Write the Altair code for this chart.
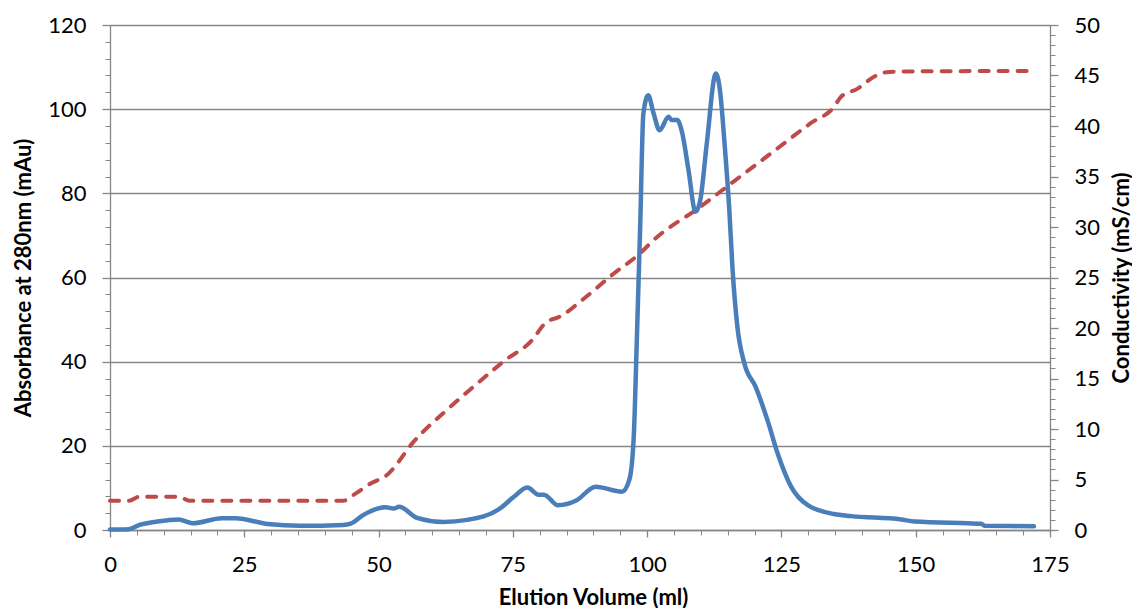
import altair as alt
import pandas as pd

# Absorbance at 280 nm (mAu) vs elution volume (ml)
vol_abs = [0, 3.5, 5.5, 8.8, 12.8, 15.4, 20.8, 23.4, 29.4, 35.4, 43.4, 44.8, 47.2, 51.3, 52.8,
           53.8, 57.3, 62.0, 66.5, 72.5, 75.2, 77.7, 79.8, 80.8, 83.4, 86.8, 90.4, 95.3, 96.7,
           97.5, 98.1, 98.7, 99.3, 100.2, 101.2, 102.3, 104.0, 104.6, 105.6, 106.5, 107.7,
           109.0, 109.9, 111.1, 112.8, 113.6, 114.4, 115.3, 115.9, 116.8, 118.1, 120.2, 122.4,
           124.3, 126.8, 129.9, 134.8, 138.0, 147.3, 149.8, 159.7, 162.2, 162.8, 172.0]
absorbance = [0.1, 0.2, 1.2, 2.0, 2.5, 1.6, 2.8, 2.8, 1.4, 1.0, 1.2, 1.5, 3.6, 5.4, 5.1,
              5.5, 2.8, 1.9, 2.4, 5.0, 7.9, 10.1, 8.4, 8.4, 5.9, 7.0, 10.3, 9.1, 12.0,
              22.0, 46.0, 72.0, 99.0, 103.3, 99.0, 95.0, 98.2, 97.4, 97.4, 94.5, 85.5,
              75.6, 78.4, 91.8, 108.5, 104.0, 92.0, 76.0, 62.0, 48.3, 39.6, 34.0, 26.1,
              18.2, 10.3, 5.9, 3.8, 3.3, 2.5, 2.0, 1.6, 1.5, 1.0, 0.9]

# Conductivity (mS/cm) vs elution volume (ml)
vol_cond = [0, 3.5, 5.5, 12.8, 14.8, 43.5, 45.4, 48.5, 51.9, 53.5, 56.3, 59.0, 62.1, 67.7,
            73.3, 78.9, 80.7, 82.0, 83.2, 88.2, 93.8, 98.7, 101.2, 109.9, 116.1, 124.3,
            130.5, 134.8, 136.1, 139.2, 142.3, 144.2, 147.3, 171.2]
conductivity = [2.9, 2.9, 3.3, 3.3, 2.9, 2.9, 3.5, 4.6, 5.6, 6.6, 8.6, 10.1, 11.6, 14.2,
                16.7, 19.0, 20.3, 20.8, 21.0, 22.9, 25.4, 27.4, 28.7, 32.0, 34.5, 37.8,
                40.3, 41.9, 42.9, 43.7, 44.9, 45.3, 45.4, 45.45]

x_major = [0, 25, 50, 75, 100, 125, 150, 175]
x_minor = list(range(0, 180, 5))
abs_major = [0, 20, 40, 60, 80, 100, 120]
abs_minor = list(range(0, 124, 4))
cond_major = list(range(0, 55, 5))
cond_minor = list(range(0, 51, 1))

df_abs = pd.DataFrame({"vol": vol_abs, "abs": absorbance})
df_cond = pd.DataFrame({"vol": vol_cond, "cond": conductivity})

FONT = "Lato"
GRAY = "#868686"
W, H = 940, 505

xscale = alt.Scale(domain=[0, 175], nice=False, zero=False)
abs_scale = alt.Scale(domain=[0, 120], nice=False)
cond_scale = alt.Scale(domain=[0, 50], nice=False)

minor_axis = dict(labels=False, domain=False, grid=False, title=None, tickSize=5,
                  tickColor=GRAY, tickWidth=1)

red = alt.Chart(df_cond).mark_line(
    color="#BE4B48", strokeWidth=4, strokeDash=[9, 10], strokeCap="round",
    interpolate="monotone"
).encode(
    x=alt.X("vol:Q", scale=xscale, axis=None),
    y=alt.Y("cond:Q", scale=cond_scale, axis=alt.Axis(
        orient="right", values=cond_major, grid=False, tickSize=8,
        title="Conductivity (mS/cm)", titleAngle=270, titleX=71, titleY=H / 2,
        titleAlign="center", titleBaseline="middle", labelPadding=16)),
)

red_minor = alt.Chart(df_cond).mark_line(opacity=0).encode(
    x=alt.X("vol:Q", scale=xscale, axis=None),
    y=alt.Y("cond:Q", scale=cond_scale, axis=alt.Axis(orient="right", values=cond_minor, **minor_axis)),
)

blue = alt.Chart(df_abs).mark_line(
    color="#4A7EBB", strokeWidth=4.5, interpolate="monotone", strokeCap="round"
).encode(
    x=alt.X("vol:Q", scale=xscale, axis=alt.Axis(
        orient="bottom", values=x_major, grid=False, tickSize=7, labelPadding=17,
        title="Elution Volume (ml)", titleX=483, titleY=67, titleAlign="center",
        titleBaseline="middle")),
    y=alt.Y("abs:Q", scale=abs_scale, axis=alt.Axis(
        orient="left", values=abs_major, grid=True, gridColor=GRAY, gridWidth=1.3,
        tickSize=8, labelPadding=16,
        title="Absorbance at 280nm (mAu)", titleAngle=270, titleX=-87, titleY=H / 2,
        titleAlign="center", titleBaseline="middle")),
)

blue_minor = alt.Chart(df_abs).mark_line(opacity=0).encode(
    x=alt.X("vol:Q", scale=xscale, axis=alt.Axis(orient="bottom", values=x_minor, **minor_axis)),
    y=alt.Y("abs:Q", scale=abs_scale, axis=alt.Axis(orient="left", values=abs_minor, **minor_axis)),
)

chart = alt.layer(blue_minor, red_minor, red, blue).resolve_scale(
    y="independent"
).resolve_axis(
    x="independent", y="independent"
).properties(
    width=W, height=H,
    autosize=alt.AutoSizeParams(type="none"),
    padding={"left": 102, "top": 17, "right": 82, "bottom": 78},
).configure_view(
    stroke=None
).configure_axis(
    labelFont=FONT, labelFontSize=22, labelColor="black",
    labelFlush=False, labelOverlap=False,
    titleFont=FONT, titleFontSize=22, titleFontWeight="bold", titleColor="black",
    domainColor=GRAY, domainWidth=1.3, tickColor=GRAY, tickWidth=1.3,
)

chart.save("out.html", embed_options={"renderer": "svg", "actions": False})
